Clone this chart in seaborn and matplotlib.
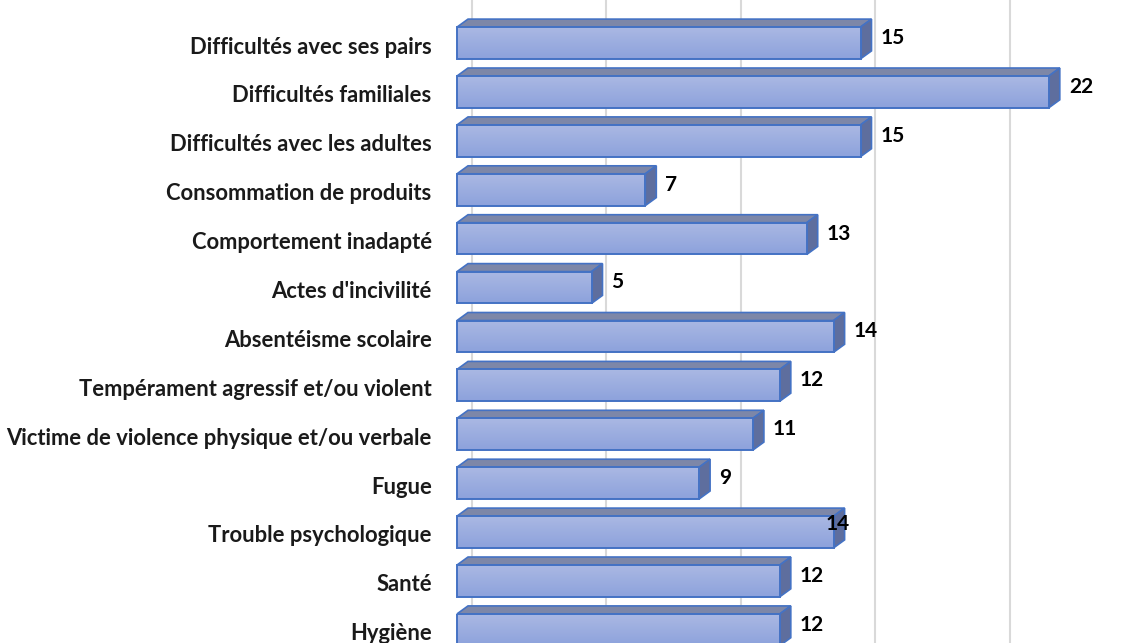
import numpy as np
import pandas as pd
import matplotlib
matplotlib.use("Agg")
import matplotlib.pyplot as plt
import matplotlib.transforms as mtransforms
from matplotlib.patches import Polygon
import seaborn as sns

categories = [
    "Difficultés avec ses pairs",
    "Difficultés familiales",
    "Difficultés avec les adultes",
    "Consommation de produits",
    "Comportement inadapté",
    "Actes d'incivilité",
    "Absentéisme scolaire",
    "Tempérament agressif et/ou violent",
    "Victime de violence physique et/ou verbale",
    "Fugue",
    "Trouble psychologique",
    "Santé",
    "Hygiène",
]
values = [15, 22, 15, 7, 13, 5, 14, 12, 11, 9, 14, 12, 12]
xticks = [0, 5, 10, 15, 20, 25]

df = pd.DataFrame({"cat": categories, "val": values})

sns.set_theme(style="white")
plt.rcParams["font.family"] = ["Lato", "DejaVu Sans"]

W, H = 1137, 643
fig = plt.figure(figsize=(W / 100, H / 100), dpi=100)
ax_left_px = 440
ax = fig.add_axes([ax_left_px / W, 0, (W - ax_left_px) / W, 1])

edge = "#4472C4"
sns.barplot(data=df, x="val", y="cat", orient="h", color="#9DAEE0",
            edgecolor=edge, linewidth=1.4, width=0.65, ax=ax, zorder=3)

ppu = 26.9
x0_px = 457
row_px = 48.9
y0_px = 43

ax.set_xticks(xticks)
ax.set_xticklabels([])
ax.tick_params(axis="both", length=0)
ax.tick_params(axis="y", pad=6, labelsize=15.8)
for lab in ax.get_yticklabels():
    lab.set_fontweight("bold")
    lab.set_color("#1a1a1a")
    lab.set_transform(lab.get_transform() + mtransforms.ScaledTranslation(0, -0.02, fig.dpi_scale_trans))
ax.set_xlabel("")
ax.set_ylabel("")
for s in ax.spines.values():
    s.set_visible(False)

ax.grid(axis="x", color="#d9d9d9", linewidth=1.5, zorder=0)
ax.set_axisbelow(True)
shift = mtransforms.ScaledTranslation(14.5 / 100, 0, fig.dpi_scale_trans)
for gl in ax.get_xgridlines():
    gl.set_transform(gl.get_transform() + shift)

ddx = 11 / ppu
ddy = 8 / row_px

grad = np.linspace(0, 1, 64).reshape(-1, 1)
cmap = matplotlib.colors.LinearSegmentedColormap.from_list("g", ["#AAB8E3", "#8DA2DC"])

label_nudge = {10: (-8, 8)}

for i, p in enumerate(list(ax.patches)):
    x0 = p.get_x()
    w = p.get_width()
    x1 = x0 + w
    yt = p.get_y()
    yb = yt + p.get_height()
    top = Polygon([(x0, yt), (x1, yt), (x1 + ddx, yt - ddy), (x0 + ddx, yt - ddy)],
                  closed=True, facecolor="#7D87A8", edgecolor=edge, linewidth=1.2, zorder=2.6)
    side = Polygon([(x1, yt), (x1 + ddx, yt - ddy), (x1 + ddx, yb - ddy), (x1, yb)],
                   closed=True, facecolor="#5E6E9E", edgecolor=edge, linewidth=1.2, zorder=2.6)
    ax.add_patch(top)
    ax.add_patch(side)
    im = ax.imshow(grad, cmap=cmap, extent=(x0, x1, yb, yt), aspect="auto",
                   interpolation="bilinear", zorder=2.8)
    im.set_clip_path(p)
    p.set_facecolor("none")
    p.set_zorder(3)
    nx, ny = label_nudge.get(i, (20, 5))
    ax.annotate(f"{values[i]:g}", xy=(x1, (yt + yb) / 2), xytext=(nx * 0.72, ny * 0.72),
                textcoords="offset points", ha="left", va="center",
                fontsize=15, fontweight="bold", color="black", zorder=5)

ax.set_xlim((ax_left_px - x0_px) / ppu, (W - x0_px) / ppu)
ax.set_ylim((H - y0_px) / row_px, (0 - y0_px) / row_px)

fig.savefig("out.png", dpi=100)
